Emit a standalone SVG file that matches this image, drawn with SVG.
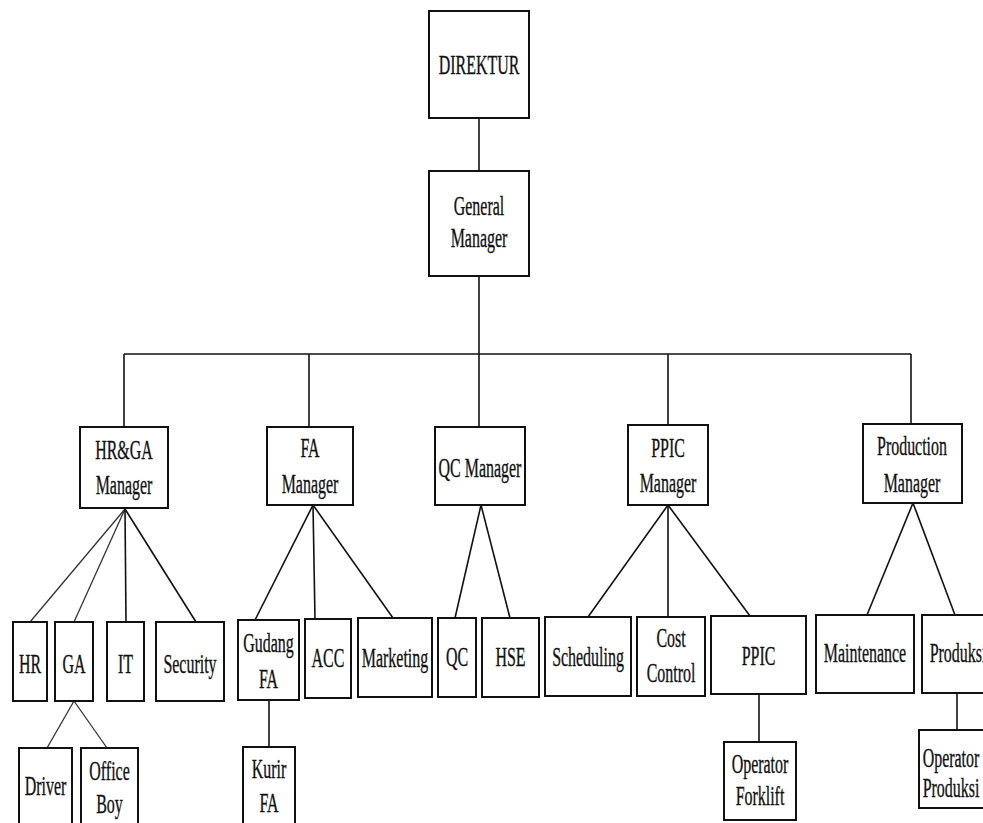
<svg xmlns="http://www.w3.org/2000/svg" width="983" height="823" viewBox="0 0 983 823">
<style>
.b{fill:#fff;stroke:#111;stroke-width:2}
.c line{stroke:#111;stroke-width:1.6;fill:none}
.c .f{stroke:#333;stroke-width:1.3}
text{font-family:"Liberation Serif","Times New Roman",serif;font-size:28px;fill:#111;stroke:#111;stroke-width:0.35;text-anchor:middle}
</style>
<rect width="983" height="823" fill="#fff"/>
<g class="c" id="connectors">
<line x1="479" y1="118" x2="479" y2="171"/>
<line x1="479" y1="276" x2="479" y2="427"/>
<line x1="124" y1="354" x2="911" y2="354"/>
<line x1="124" y1="354" x2="124" y2="427"/>
<line x1="309" y1="354" x2="309" y2="427"/>
<line x1="668" y1="354" x2="668" y2="425"/>
<line x1="911" y1="354" x2="911" y2="424"/>
<line class="f" x1="125" y1="509" x2="30" y2="622"/>
<line class="f" x1="125" y1="509" x2="74" y2="622"/>
<line x1="125" y1="509" x2="126" y2="622"/>
<line x1="125" y1="509" x2="196" y2="622"/>
<line class="f" x1="74" y1="701" x2="47" y2="748"/>
<line class="f" x1="74" y1="701" x2="107" y2="748"/>
<line x1="313" y1="505" x2="255" y2="620"/>
<line x1="313" y1="505" x2="315" y2="619"/>
<line x1="313" y1="505" x2="393" y2="618"/>
<line x1="269" y1="700" x2="269" y2="747"/>
<line x1="481" y1="505" x2="455" y2="618"/>
<line x1="481" y1="505" x2="510" y2="618"/>
<line x1="668" y1="505" x2="588" y2="617"/>
<line x1="668" y1="505" x2="668" y2="617"/>
<line x1="668" y1="505" x2="750" y2="616"/>
<line x1="759" y1="694" x2="759" y2="742"/>
<line x1="913" y1="503" x2="867" y2="615"/>
<line x1="913" y1="503" x2="955" y2="615"/>
<line x1="957" y1="693" x2="957" y2="730"/>
</g>
<g id="direktur"><rect class="b" x="429" y="11" width="100" height="107"/><text transform="translate(479,74) scale(0.57,1)">DIREKTUR</text></g>
<g id="gm"><rect class="b" x="429" y="171" width="100" height="105"/><text transform="translate(479,215) scale(0.57,1)">General</text><text transform="translate(479,247) scale(0.57,1)">Manager</text></g>
<g id="hrga"><rect class="b" x="80" y="427" width="88" height="81"/><text transform="translate(124,459) scale(0.57,1)">HR&amp;GA</text><text transform="translate(124,494) scale(0.57,1)">Manager</text></g>
<g id="fa"><rect class="b" x="267" y="427" width="86" height="78"/><text transform="translate(310,457) scale(0.57,1)">FA</text><text transform="translate(310,493) scale(0.57,1)">Manager</text></g>
<g id="qcm"><rect class="b" x="435" y="427" width="90" height="78"/><text transform="translate(480,477) scale(0.57,1)">QC Manager</text></g>
<g id="ppicm"><rect class="b" x="628" y="425" width="80" height="80"/><text transform="translate(668,457) scale(0.57,1)">PPIC</text><text transform="translate(668,492) scale(0.57,1)">Manager</text></g>
<g id="prodm"><rect class="b" x="863" y="424" width="99" height="79"/><text transform="translate(912,455) scale(0.57,1)">Production</text><text transform="translate(912,492) scale(0.57,1)">Manager</text></g>
<g id="hr"><rect class="b" x="13" y="622" width="34" height="79"/><text transform="translate(30,673) scale(0.57,1)">HR</text></g>
<g id="ga"><rect class="b" x="55" y="622" width="38" height="79"/><text transform="translate(74,673) scale(0.57,1)">GA</text></g>
<g id="it"><rect class="b" x="107" y="622" width="37" height="79"/><text transform="translate(125.5,673) scale(0.57,1)">IT</text></g>
<g id="security"><rect class="b" x="156" y="622" width="68" height="79"/><text transform="translate(190,673) scale(0.57,1)">Security</text></g>
<g id="gudang"><rect class="b" x="238" y="620" width="61" height="80"/><text transform="translate(268.5,652) scale(0.57,1)">Gudang</text><text transform="translate(268.5,688) scale(0.57,1)">FA</text></g>
<g id="acc"><rect class="b" x="305" y="619" width="46" height="79"/><text transform="translate(328,667) scale(0.57,1)">ACC</text></g>
<g id="marketing"><rect class="b" x="358" y="618" width="74" height="79"/><text transform="translate(395,667) scale(0.57,1)">Marketing</text></g>
<g id="qc"><rect class="b" x="438" y="618" width="38" height="79"/><text transform="translate(457,666) scale(0.57,1)">QC</text></g>
<g id="hse"><rect class="b" x="482" y="618" width="57" height="79"/><text transform="translate(510.5,666) scale(0.57,1)">HSE</text></g>
<g id="scheduling"><rect class="b" x="545" y="617" width="86" height="79"/><text transform="translate(588,666) scale(0.57,1)">Scheduling</text></g>
<g id="cost"><rect class="b" x="637" y="617" width="68" height="79"/><text transform="translate(671,647) scale(0.57,1)">Cost</text><text transform="translate(671,682) scale(0.57,1)">Control</text></g>
<g id="ppic"><rect class="b" x="711" y="616" width="95" height="78"/><text transform="translate(758.5,665) scale(0.57,1)">PPIC</text></g>
<g id="maintenance"><rect class="b" x="816" y="615" width="98" height="78"/><text transform="translate(865,662) scale(0.57,1)">Maintenance</text></g>
<g id="produksi"><rect class="b" x="922" y="615" width="73" height="78"/><text transform="translate(958,662) scale(0.57,1)">Produksi</text></g>
<g id="driver"><rect class="b" x="19" y="748" width="53" height="82"/><text transform="translate(45.5,795) scale(0.57,1)">Driver</text></g>
<g id="officeboy"><rect class="b" x="81" y="748" width="57" height="82"/><text transform="translate(109.5,780) scale(0.57,1)">Office</text><text transform="translate(109.5,813) scale(0.57,1)">Boy</text></g>
<g id="kurir"><rect class="b" x="243" y="747" width="52" height="83"/><text transform="translate(269,778) scale(0.57,1)">Kurir</text><text transform="translate(269,812) scale(0.57,1)">FA</text></g>
<g id="opforklift"><rect class="b" x="724" y="742" width="72" height="78"/><text transform="translate(760,773) scale(0.57,1)">Operator</text><text transform="translate(760,805) scale(0.57,1)">Forklift</text></g>
<g id="opproduksi"><rect class="b" x="919" y="730" width="66" height="78"/><text transform="translate(951,767) scale(0.57,1)">Operator</text><text transform="translate(951,797) scale(0.57,1)">Produksi</text></g>
</svg>
